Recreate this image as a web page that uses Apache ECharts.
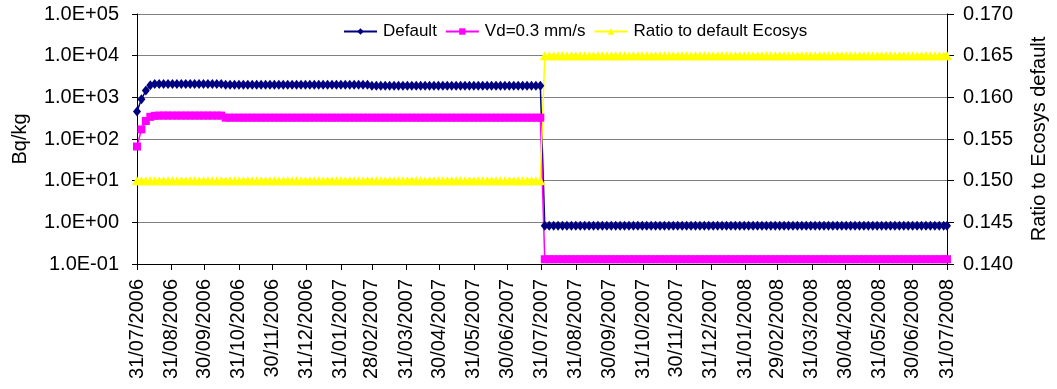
<!DOCTYPE html>
<html>
<head>
<meta charset="utf-8">
<script src="https://cdn.jsdelivr.net/npm/echarts@6/dist/echarts.min.js"></script>
<style>
  html, body { margin: 0; padding: 0; background: #ffffff; }
  #chart { width: 1057px; height: 389px; }
</style>
</head>
<body>
<div id="chart"></div>
<script>
// Month-end tick labels along the date axis (31/07/2006 .. 31/07/2008)
const tickLabels = [
  '31/07/2006', '31/08/2006', '30/09/2006', '31/10/2006', '30/11/2006', '31/12/2006',
  '31/01/2007', '28/02/2007', '31/03/2007', '30/04/2007', '31/05/2007', '30/06/2007',
  '31/07/2007', '31/08/2007', '30/09/2007', '31/10/2007', '30/11/2007', '31/12/2007',
  '31/01/2008', '29/02/2008', '31/03/2008', '30/04/2008', '31/05/2008', '30/06/2008',
  '31/07/2008'
];
const leftTickLabels = ['1.0E-01', '1.0E+00', '1.0E+01', '1.0E+02', '1.0E+03', '1.0E+04', '1.0E+05'];
const rightTickLabels = ['0.140', '0.145', '0.150', '0.155', '0.160', '0.165', '0.170'];

// Concentration, default Ecosys run (Bq/kg), one value every 4 days, last one on 31/07/2008
const defaultVals = [
  460, 900, 1450, 1950, 2100,
  2100, 2100, 2100, 2100, 2100,
  2100, 2100, 2100, 2100, 2100,
  2100, 2100, 2100, 2100, 2100,
  2000, 2000, 2000, 2000, 2000, 2000, 2000, 2000, 2000, 2000, 2000,
  2000, 2000, 2000, 2000, 2000, 2000, 2000, 2000, 2000, 2000, 2000,
  2000, 2000, 2000, 2000, 2000, 2000, 2000, 2000, 2000, 2000, 2000,
  1900, 1900, 1900, 1900, 1900, 1900, 1900, 1900, 1900, 1900, 1900, 1900, 1900,
  1900, 1900, 1900, 1900, 1900, 1900, 1900, 1900, 1900, 1900, 1900, 1900, 1900,
  1900, 1900, 1900, 1900, 1900, 1900, 1900, 1900, 1900, 1900, 1900, 1900, 1900,
  0.83, 0.83, 0.83, 0.83, 0.83, 0.83, 0.83, 0.83, 0.83, 0.83,
  0.83, 0.83, 0.83, 0.83, 0.83, 0.83, 0.83, 0.83, 0.83, 0.83,
  0.83, 0.83, 0.83, 0.83, 0.83, 0.83, 0.83, 0.83, 0.83, 0.83,
  0.83, 0.83, 0.83, 0.83, 0.83, 0.83, 0.83, 0.83, 0.83, 0.83,
  0.83, 0.83, 0.83, 0.83, 0.83, 0.83, 0.83, 0.83, 0.83, 0.83,
  0.83, 0.83, 0.83, 0.83, 0.83, 0.83, 0.83, 0.83, 0.83, 0.83,
  0.83, 0.83, 0.83, 0.83, 0.83, 0.83, 0.83, 0.83, 0.83, 0.83,
  0.83, 0.83, 0.83, 0.83, 0.83, 0.83, 0.83, 0.83, 0.83, 0.83,
  0.83, 0.83, 0.83, 0.83, 0.83, 0.83, 0.83, 0.83, 0.83, 0.83,
  0.83, 0.83
];

// Concentration with deposition velocity Vd = 0.3 mm/s (Bq/kg)
const vdVals = [
  66, 170, 270, 340, 360,
  365, 365, 365, 365, 365,
  365, 365, 365, 365, 365,
  365, 365, 365, 365, 365,
  325, 325, 325, 325, 325, 325, 325, 325, 325, 325,
  325, 325, 325, 325, 325, 325, 325, 325, 325, 325,
  325, 325, 325, 325, 325, 325, 325, 325, 325, 325,
  325, 325, 325, 325, 325, 325, 325, 325, 325, 325,
  325, 325, 325, 325, 325, 325, 325, 325, 325, 325,
  325, 325, 325, 325, 325, 325, 325, 325, 325, 325,
  325, 325, 325, 325, 325, 325, 325, 325, 325, 325,
  325, 325,
  0.13, 0.13, 0.13, 0.13, 0.13, 0.13, 0.13, 0.13, 0.13, 0.13,
  0.13, 0.13, 0.13, 0.13, 0.13, 0.13, 0.13, 0.13, 0.13, 0.13,
  0.13, 0.13, 0.13, 0.13, 0.13, 0.13, 0.13, 0.13, 0.13, 0.13,
  0.13, 0.13, 0.13, 0.13, 0.13, 0.13, 0.13, 0.13, 0.13, 0.13,
  0.13, 0.13, 0.13, 0.13, 0.13, 0.13, 0.13, 0.13, 0.13, 0.13,
  0.13, 0.13, 0.13, 0.13, 0.13, 0.13, 0.13, 0.13, 0.13, 0.13,
  0.13, 0.13, 0.13, 0.13, 0.13, 0.13, 0.13, 0.13, 0.13, 0.13,
  0.13, 0.13, 0.13, 0.13, 0.13, 0.13, 0.13, 0.13, 0.13, 0.13,
  0.13, 0.13, 0.13, 0.13, 0.13, 0.13, 0.13, 0.13, 0.13, 0.13,
  0.13, 0.13
];

// Ratio of the Vd run to the default Ecosys run (right axis)
const ratioVals = [
  0.150, 0.150, 0.150, 0.150, 0.150, 0.150, 0.150, 0.150, 0.150, 0.150,
  0.150, 0.150, 0.150, 0.150, 0.150, 0.150, 0.150, 0.150, 0.150, 0.150,
  0.150, 0.150, 0.150, 0.150, 0.150, 0.150, 0.150, 0.150, 0.150, 0.150,
  0.150, 0.150, 0.150, 0.150, 0.150, 0.150, 0.150, 0.150, 0.150, 0.150,
  0.150, 0.150, 0.150, 0.150, 0.150, 0.150, 0.150, 0.150, 0.150, 0.150,
  0.150, 0.150, 0.150, 0.150, 0.150, 0.150, 0.150, 0.150, 0.150, 0.150,
  0.150, 0.150, 0.150, 0.150, 0.150, 0.150, 0.150, 0.150, 0.150, 0.150,
  0.150, 0.150, 0.150, 0.150, 0.150, 0.150, 0.150, 0.150, 0.150, 0.150,
  0.150, 0.150, 0.150, 0.150, 0.150, 0.150, 0.150, 0.150, 0.150, 0.150,
  0.150, 0.150,
  0.165, 0.165, 0.165, 0.165, 0.165, 0.165, 0.165, 0.165, 0.165, 0.165,
  0.165, 0.165, 0.165, 0.165, 0.165, 0.165, 0.165, 0.165, 0.165, 0.165,
  0.165, 0.165, 0.165, 0.165, 0.165, 0.165, 0.165, 0.165, 0.165, 0.165,
  0.165, 0.165, 0.165, 0.165, 0.165, 0.165, 0.165, 0.165, 0.165, 0.165,
  0.165, 0.165, 0.165, 0.165, 0.165, 0.165, 0.165, 0.165, 0.165, 0.165,
  0.165, 0.165, 0.165, 0.165, 0.165, 0.165, 0.165, 0.165, 0.165, 0.165,
  0.165, 0.165, 0.165, 0.165, 0.165, 0.165, 0.165, 0.165, 0.165, 0.165,
  0.165, 0.165, 0.165, 0.165, 0.165, 0.165, 0.165, 0.165, 0.165, 0.165,
  0.165, 0.165, 0.165, 0.165, 0.165, 0.165, 0.165, 0.165, 0.165, 0.165,
  0.165, 0.165
];

const START = Date.UTC(2006, 6, 31);
function dayOf(label) {
  const [d, m, y] = label.split('/').map(Number);
  return Math.round((Date.UTC(y, m - 1, d) - START) / 86400000);
}
const tickDays = tickLabels.map(dayOf);
const labelByDay = {};
tickDays.forEach((d, i) => { labelByDay[d] = tickLabels[i]; });
const lastDay = tickDays[tickDays.length - 1];

// Sample days: every 4 days, final sample on the last date
const sampleDays = defaultVals.map((_, i) => (i === defaultVals.length - 1 ? lastDay : i * 4));
const pairs = vals => sampleDays.map((d, i) => [d, vals[i]]);

const FONT = '"Liberation Sans", Arial, sans-serif';
const black = '#000000';

const chart = echarts.init(document.getElementById('chart'), null, { renderer: 'canvas' });
chart.setOption({
  animation: false,
  backgroundColor: '#ffffff',
  textStyle: { fontFamily: FONT, color: black },
  grid: { left: 137, right: 104, top: 14, bottom: 125, containLabel: false },
  legend: {
    top: 23,
    left: 343,
    padding: 0,
    itemWidth: 33,
    itemHeight: 8,
    itemGap: 8,
    textStyle: { fontFamily: FONT, fontSize: 17, color: black, padding: [0, 0, 0, 1] },
    data: ['Default', 'Vd=0.3 mm/s', 'Ratio to default Ecosys']
  },
  xAxis: {
    type: 'value',
    min: 0,
    max: lastDay,
    axisLine: { show: true, lineStyle: { color: black, width: 1 } },
    axisTick: { show: true, customValues: tickDays, length: 6, lineStyle: { color: black } },
    axisLabel: {
      customValues: tickDays,
      rotate: 90,
      margin: 15,
      fontFamily: FONT,
      fontSize: 20,
      color: black,
      formatter: v => labelByDay[v] || ''
    },
    splitLine: { show: false }
  },
  yAxis: [
    {
      type: 'log',
      logBase: 10,
      min: 0.1,
      max: 100000,
      splitNumber: 6,
      name: 'Bq/kg',
      nameLocation: 'middle',
      nameGap: 107,
      nameTextStyle: { fontFamily: FONT, fontSize: 20, color: black },
      axisLine: { show: true, lineStyle: { color: black, width: 1 } },
      axisTick: { show: true, length: 5, lineStyle: { color: black } },
      axisLabel: {
        margin: 18,
        fontFamily: FONT,
        fontSize: 20,
        color: black,
        formatter: v => leftTickLabels[Math.round(Math.log10(v)) + 1]
      },
      splitLine: { show: true, lineStyle: { color: '#808080', width: 1 } }
    },
    {
      type: 'value',
      min: 0.14,
      max: 0.17,
      interval: 0.005,
      position: 'right',
      name: 'Ratio to Ecosys default',
      nameLocation: 'middle',
      nameGap: 82,
      nameTextStyle: { fontFamily: FONT, fontSize: 20, color: black },
      axisLine: { show: true, lineStyle: { color: black, width: 1 } },
      axisTick: { show: true, length: 7, lineStyle: { color: black } },
      axisLabel: {
        margin: 16,
        fontFamily: FONT,
        fontSize: 20,
        color: black,
        formatter: v => rightTickLabels[Math.round((v - 0.14) / 0.005)]
      },
      splitLine: { show: false }
    }
  ],
  series: [
    {
      name: 'Default',
      type: 'line',
      yAxisIndex: 0,
      data: pairs(defaultVals),
      symbol: 'diamond',
      symbolSize: [8, 10],
      showAllSymbol: true,
      color: '#000080',
      lineStyle: { color: '#000080', width: 1.5 },
      itemStyle: { color: '#000080' }
    },
    {
      name: 'Vd=0.3 mm/s',
      type: 'line',
      yAxisIndex: 0,
      data: pairs(vdVals),
      symbol: 'rect',
      symbolSize: 8,
      showAllSymbol: true,
      color: '#ff00ff',
      lineStyle: { color: '#ff00ff', width: 1.5 },
      itemStyle: { color: '#ff00ff' }
    },
    {
      name: 'Ratio to default Ecosys',
      type: 'line',
      yAxisIndex: 1,
      data: pairs(ratioVals),
      symbol: 'triangle',
      symbolSize: [10, 9],
      showAllSymbol: true,
      color: '#ffff00',
      lineStyle: { color: '#ffff00', width: 1.5 },
      itemStyle: { color: '#ffff00' }
    }
  ]
});
</script>
</body>
</html>
